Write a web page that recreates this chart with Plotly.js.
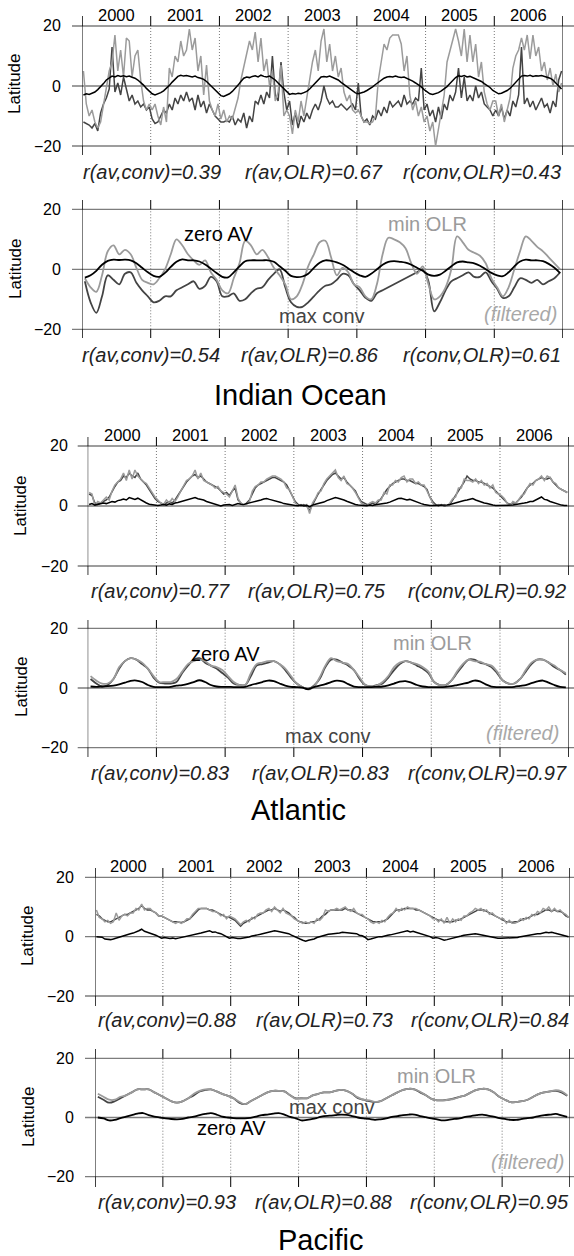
<!DOCTYPE html>
<html><head><meta charset="utf-8">
<script src="https://cdn.plot.ly/plotly-3.0.1.min.js"></script>
<style>html,body{margin:0;padding:0;background:#fff}#chart{width:574px;height:1256px}</style>
</head><body><div id="chart"></div>
<script>
// ---------------- DATA ----------------
const yearLabels = ['2000','2001','2002','2003','2004','2005','2006'];
const yearBounds = [2000,2001,2002,2003,2004,2005,2006,2007];
const yTicks = [-20, 0, 20];
const yTickText = ['\u221220', '0', '20'];
const regionNames = ['Indian Ocean', 'Atlantic', 'Pacific'];
const seriesNames = ['max conv', 'min OLR', 'zero AV'];
const corrIndianRaw = ['r(av,conv)=0.39', 'r(av,OLR)=0.67', 'r(conv,OLR)=0.43'];
const corrIndianFilt = ['r(av,conv)=0.54', 'r(av,OLR)=0.86', 'r(conv,OLR)=0.61'];
const corrAtlRaw = ['r(av,conv)=0.77', 'r(av,OLR)=0.75', 'r(conv,OLR)=0.92'];
const corrAtlFilt = ['r(av,conv)=0.83', 'r(av,OLR)=0.83', 'r(conv,OLR)=0.97'];
const corrPacRaw = ['r(av,conv)=0.88', 'r(av,OLR)=0.73', 'r(conv,OLR)=0.84'];
const corrPacFilt = ['r(av,conv)=0.93', 'r(av,OLR)=0.88', 'r(conv,OLR)=0.95'];

// Indian Ocean, raw (24 values per year, 2000-2006)
const indRawAV = [
-3.0,-2.6,-2.8,-2.3,-2.0,-1.2,-0.3,0.8,2.0,2.8,3.3,3.0,3.5,3.2,3.4,3.1,3.3,2.9,2.6,2.0,1.2,0.3,-0.8,-1.8,
-2.6,-3.0,-2.7,-2.2,-1.6,-0.8,0.2,1.3,2.4,3.2,3.6,3.3,3.5,3.2,3.0,3.3,2.8,2.6,2.2,1.5,0.6,-0.3,-1.4,-2.4,
-3.2,-3.5,-3.0,-2.6,-1.8,-0.9,0.3,1.5,2.6,3.0,2.8,3.2,3.4,3.0,3.6,3.2,3.0,3.3,2.7,2.0,1.0,0.0,-1.0,-2.0,
-2.8,-2.5,-2.7,-2.4,-2.6,-2.2,-1.8,-1.0,0.0,1.2,2.2,3.0,3.2,3.0,3.3,2.8,2.5,2.0,1.2,0.5,-0.3,-1.0,-1.8,-2.3,
-2.6,-2.4,-2.0,-1.5,-1.0,-0.3,0.5,1.3,2.0,2.6,3.0,3.2,3.0,3.3,3.0,2.8,3.0,2.6,2.2,1.6,1.0,0.4,-0.3,-1.2,
-2.0,-2.6,-2.8,-2.5,-2.2,-1.6,-1.0,-0.2,0.8,1.8,2.8,3.4,3.2,3.5,3.0,3.2,2.8,2.5,2.0,1.5,0.8,0.2,-0.5,-1.5,
-2.2,-2.6,-2.4,-2.0,-1.5,-0.8,0.2,1.5,2.5,3.3,3.5,3.3,3.6,3.2,3.4,3.3,3.5,3.2,3.0,2.6,2.0,1.0,0.0,-1.0];
const indRawConv = [
-12,-12.5,-13,-14,-12.5,-15,-9,-6,-4,-1,13,-2,1,-3,3,-1,-5,-3,-6,-5,-7,-6,-8,-7,
-11,-12.5,-12,-10,-8,-9,-6,-8,-4,-6,-3,-5,-2,-5,-4,-8,-3,-7,-5,-9,-6,-8,-10,-11,
-12,-12,-11.5,-12,-10,-13,-11,-12,-9,-14,-10,-12,-5,-6,-3,-6,-2,-4,10,-3,-5,8,-2,-8,
-5,-13,-9,-14,-10,-12,-9,-11,-8,-6,-8,-5,0,-4,-6,-5,-7,-7,-6,-7,-8,-7,-6,-8,
1,-10,-12,-11,-13,-10,-11,-8,-10,-7,-9,-5,-7,-6,-5,-7,-3,-6,-5,-6,-4,-5,6,-8,
-6,-10,-8,-12,-7,-11,-6,-8,-3,-5,-2,6,-4,3,-5,-3,-5,0,-4,-2,-6,-7,-8,-10,
-8,-10,-7,-11,-8,-10,-5,-7,-3,13,-6,-4,-7,-5,-8,-6,-4,-7,-6,-9,-5,-7,2,5];
const indRawOLR = [
5,-6,-10,-8,-12,-14,-12,-6,0,5,8,17,5,12,3,16,15,3,10,12,2,-5,-8,-6,
-8,-6,-10,-13,-7,-12,6,3,10,8,15,10,12,19,12,16,5,10,-3,7,-5,-8,-10,-6,
-11,-8,-12,-10,-11,-7,-4,2,6,10,15,12,18,8,16,5,9,0,5,-5,-2,7,-10,-8,
-10,-16,-8,-12,-5,-10,-4,2,8,12,5,15,19,8,14,5,10,3,6,-2,-5,-3,-8,-9,
-8,-10,-12,-12,-12.5,-12,-10,2,8,14,12,16,17,17,17,14,5,10,-3,-8,-5,-10,-7,-12,
-10,-15,-12,-20,-14,-8,-3,8,12,15,19,15,10,19,8,17,8,14,3,8,-2,-6,-8,-5,
-5,-10,-6,-12,-8,-4,6,10,12,16,12,17,9,17,10,13,5,8,2,6,0,4,-2,1];

// Indian Ocean, filtered (12 values per year)
const indFiltAV = [
-2.8,-2.0,-0.5,1.5,2.8,3.2,3.1,3.2,3.0,2.0,0.5,-1.0,
-2.2,-2.5,-1.2,0.8,2.5,3.3,3.0,3.0,2.6,1.6,0.2,-1.2,
-2.5,-2.7,-1.0,1.0,2.7,3.0,3.0,3.0,3.0,2.5,1.0,-0.5,
-2.2,-2.6,-2.4,-1.5,0.5,2.2,3.0,2.8,2.3,1.5,0.3,-1.0,
-2.0,-2.5,-1.5,0.0,1.5,2.5,2.7,2.5,2.2,1.5,0.5,-0.5,
-1.8,-2.2,-1.8,-0.5,1.0,2.3,2.6,2.3,2.0,1.2,0.0,-1.2,
-2.0,-2.3,-1.0,1.0,2.6,3.2,3.0,3.0,2.7,1.8,0.5,-1.3];
const indFiltConv = [
-4,-11,-14.5,-9,-2,-3.5,-5,-1.5,-1,-4.5,-7,-9,
-11,-10.5,-9,-9,-7,-6,-5,-4,-6.5,-5.5,-2.5,-4,
-9,-9,-8,-10.5,-10,-8,-6.5,-6,-3.5,-1.5,0,-6,
-11,-12.5,-12.5,-11,-9,-7,-5.5,-5,-3.5,-1.5,-2,-5,
-7,-9.5,-10.5,-8,-7,-6,-5,-4,-3,-2,-1,0,
-4,-14,-11,-7,-4,-3,-2,-1,-2.5,-2.5,-1,-4,
-6.5,-9.5,-9,-6,-3,-3.5,-4.5,-3.5,-5,-4,-3,-1];
const indFiltOLR = [
-3,-6,-7.5,-2,6,8,5,6.5,5,0.5,-3.5,-4.5,
-5,-3,0,5,10,8,5,3,1.5,3,-1,-3.5,
-7,-8,-3,2,9.5,8,5,6.5,4,0.5,-2,-5,
-10,-9,-5,1,5,9,9.5,4,-2,0.5,-1,-5,
-6,-9,-10,-5,5,10.5,10,9,7,2,-1.5,1,
-5,-10,-9,-6,0,11,9,6.5,5.5,4.5,2,-3,
-6,-9,-6,0,6,11,9.5,7.5,6,4,2,0];

// Atlantic, raw (24 values per year)
const atlRawAV = [
0.5,0.8,0.3,0.5,0.7,1.0,0.8,1.2,1.5,1.3,1.8,2.0,2.3,2.0,2.8,2.5,2.2,2.6,2.0,1.5,1.0,0.6,0.4,0.2,
0.2,0.3,0.5,0.3,0.7,0.5,1.0,1.2,1.5,1.8,2.0,2.3,2.5,2.8,2.4,2.2,2.0,1.5,1.2,1.0,0.8,0.3,0.0,0.3,
0.3,0.5,0.2,0.6,0.8,0.6,0.5,0.8,1.0,1.3,1.5,1.8,2.0,2.3,2.5,2.2,2.0,1.8,1.5,1.2,0.8,0.6,0.4,0.3,
0.2,0.1,0.3,0.0,0.2,-0.3,0.3,0.6,0.8,1.0,1.3,1.8,2.2,2.5,2.8,2.6,2.4,2.0,1.6,1.2,0.8,0.5,0.3,0.2,
0.2,0.1,0.3,0.2,0.4,0.5,0.6,0.8,1.0,1.3,1.7,2.0,2.5,2.6,2.3,2.0,2.2,1.8,1.5,1.2,0.8,0.5,0.3,0.2,
0.2,0.2,0.3,0.1,0.2,0.3,0.5,0.8,1.0,1.2,1.5,1.8,2.0,2.3,2.5,2.0,1.6,1.2,1.0,0.8,0.5,0.3,0.2,0.2,
0.2,0.3,0.1,0.2,0.3,0.5,0.6,0.8,1.0,1.2,1.5,1.5,2.0,2.5,3.0,2.2,2.0,1.5,1.2,0.8,0.5,0.3,0.2,0.2];
const atlRawConv = [
4,3.5,1,0.5,1,1.5,2,3,5,6.5,8,8.5,10,9.5,11,10,9.5,11,9,8,7,5.5,4,2.5,
1.5,1,0.5,1,1.5,1,2,3.5,5,6.5,8,9,10,10.5,9.5,10,9,8,7.5,7,6.5,6,5,4,
4.5,3.5,5,6,2,1,0,1,2,4,6,7,7.5,8,8.5,9,9.5,9.5,9,8.5,8,7,5,3,
1.5,0.5,0,0.5,0,-1.5,0.5,2,4,5.5,7,8.5,9.5,10.5,11,10,9,9.5,8,7,6,5,3,1.5,
1,0.5,0.5,1,0.5,1.5,2.5,4,5.5,6.5,7.5,8,8.5,9,9,8.5,8.5,8,7.5,7.5,7,6.5,5.5,3,
1.5,0.5,0,0.5,0,0,0.5,2,3.5,5,6.5,8,10,9,8.5,8.5,8,8,7.5,7,6.5,6,5,4,
3,2,1,0.5,1,1,2,3,4.5,6,7,7.5,8.5,9,9.5,9,9,9.5,8,7,6,5.5,5,4.5];
const atlRawOLR = [
4.5,4,0,1.5,1,2,3,2,5,7,8,9,11,8.5,12,9,12,10,9,8,7.5,6,4.5,3,
2,1,0.5,2,1,2.5,1.5,3,5,7,8.5,9,10,12,9,11,8.5,8,7.5,7,6,6.5,5,4.5,
4,3,5,7,2.5,1,0,0.5,1.5,5,6.5,7,8,8,9,9.5,10,10,9.5,9,8,6,5.5,3,
1,0,0.5,0,0.5,-2.5,1,2.5,4.5,5,7.5,9,10,11,12,9.5,8.5,10,7.5,7,6,4.5,2.5,1,
0.5,0,1,1.5,1,2,2,4.5,4,7,7,8.5,8,9.5,10,8,9,9,7.5,8,7,7,5,3,
1,0,0.5,0,0.5,0,1,2.5,3,6,6,9,8.5,8.5,8,9,7.5,8.5,7,7.5,6,7,4.5,4,
3.5,2.5,1,0,1.5,1,2,3.5,4,6,7.5,7,8.5,9,10,8.5,10,9.5,8,7.5,6,5.5,5,4.5];

// Atlantic, filtered (12 values per year)
const atlFiltAV = [
0.5,0.4,0.5,0.6,0.8,1.2,1.8,2.4,2.5,2.0,1.0,0.4,
0.3,0.3,0.4,0.8,1.0,1.4,2.0,2.6,2.0,1.0,0.5,0.4,
0.4,0.3,0.3,0.4,1.0,1.5,2.0,2.5,2.3,1.5,0.8,0.4,
0.3,0.1,-0.4,0.3,0.8,1.3,2.0,2.5,2.2,1.3,0.5,0.3,
0.3,0.3,0.4,0.5,0.9,1.5,2.1,2.3,1.8,1.0,0.5,0.3,
0.3,0.3,0.4,0.6,1.0,1.4,1.8,2.5,2.2,1.2,0.5,0.3,
0.3,0.3,0.4,0.7,1.0,1.6,2.2,2.5,1.8,1.0,0.4,0.2];
const atlFiltConv = [
3,1.5,0.5,1,3,6.5,9,10,9.5,8,6.5,3.5,
1.8,1.5,1.5,2,5,7.5,9.5,10,8.5,7.5,6.5,5,
3.5,1.5,1,1,4,7.5,8,8.5,9,8,6,3.5,
1.5,0.3,-0.3,0.8,3,7,9.5,9.5,8.5,7.5,6,3,
1,0.5,1,1.5,3.5,6,8,9,8.5,7.5,6.5,5,
2,1,1,2.5,5,7.5,9.5,9.5,8.5,8,7,5,
2.5,1.5,1.5,3,5.5,8,9.5,9.5,8.5,7,6,4.5];
const atlFiltOLR = [
4,2.5,1.5,1.5,3,7,9,10,9.5,8.5,6.5,4,
2,2,2,3,5.5,8,9,9.5,9,7.5,7,6,
4,2,1,1,5,8,8.5,9,9,8,6.5,4,
1.5,0.3,-0.5,0.5,3.5,7.5,10,9,8.5,8,6,3.5,
1,0.5,0.8,2,4,7,8.5,9,8.5,8,7,5.5,
2,1,1,2.5,5.5,8,9.5,9,8.8,8,7.5,5.5,
2.5,1.5,1.5,3,6,8.5,9.5,9.5,8.5,7.5,6,5];

// Pacific, raw (24 values per year)
const pacRawAV = [
0,0,-0.2,-0.8,-1,-1,-0.8,-0.5,0,0.3,0.5,0.8,1,1.2,1.5,2.0,2.5,1.8,1.5,1.2,1.0,0.5,0,-0.5,
-0.3,-0.5,-0.6,-0.5,-0.7,-0.5,-0.3,-0.2,0,0.3,0.5,0.8,1.0,1.2,1.5,1.8,2.0,1.5,1.6,1.2,1.0,0.5,0,-0.5,
-0.3,-0.5,-0.6,-0.6,-0.5,-0.3,-0.1,0.2,0.5,0.6,0.8,1.0,1.2,1.5,1.8,2.0,1.8,1.6,1.5,1.2,1.0,0.5,0,-0.5,
-0.8,-1.2,-1.5,-1.2,-1,-0.8,-0.3,0,0.3,0.5,0.8,0.9,1.0,1.0,1.2,1.5,1.4,1.2,1.3,1.0,1.0,0.5,0.3,-0.2,
-1,-0.8,-0.5,-0.3,0,0,0.3,0.5,0.6,0.8,1.0,1.2,1.5,1.8,2.0,1.6,1.8,1.5,1.2,1.0,0.8,0.5,0,-0.5,
-0.3,-0.5,-0.8,-1.2,-1.0,-0.8,-0.5,-0.3,0,0.2,0.5,0.6,0.8,1.0,1.0,0.8,0.6,0.5,0.3,0.2,0,-0.3,-0.5,-0.5,
-0.5,-0.5,-0.3,-0.5,-0.4,-0.3,0,0.2,0.3,0.5,0.6,0.8,1.0,1.0,1.2,1.5,1.3,1.5,1.2,1.0,0.8,0.5,0.3,0];
const pacRawConv = [
7.5,7,6,5.5,5,5,5.5,6,6.5,7,7.5,7.5,8,8.5,9,9.5,10.5,9.5,9,9,8.5,8,7,7,
6.5,6,5.5,5,5,4.8,4.8,5,5.5,6,7,8,9,9.5,9.5,9.5,9,9,8.5,8,7.5,7,6.5,6.5,
6,5.5,4.5,3.5,4.5,5,5.5,6,6.5,7,7.5,8,8.5,9,9,9.5,9,8.5,9,8.5,8,7,6.5,5.5,
5,4.8,4.5,4.5,5,5,5.5,6,7,7.5,8.5,9,9,9,9,9,9.5,9,9,8.5,8,7.5,7,6.5,
6,5.5,5,5,5,5,5.5,6,7,8,9,9,9,9.5,9.5,9.5,9.5,9,9,8.5,8,7.5,7,6.5,
6,5.5,5.5,5,5,5,5,5.5,5.5,6,6.5,7,7.5,8,8.5,9,9,9,8.5,8,7.5,7,6.5,6,
5.5,5,5,4.8,5,5,5.5,6,6,6.5,7,7.5,7.5,8,8.5,9,9,8.5,9,8.5,8.5,8,7,6.5];
const pacRawOLR = [
9,6.5,6,5,5.5,4.5,5,8,5.5,7,7.5,7,8,8,9.5,9,11,9,9.5,9.5,8.5,8,7,7,
6.5,6,5.5,5,4.5,5,4.5,5,6,6,7.5,8.5,9.5,9.5,9.5,9.5,9,8.5,8.5,8,7,7.5,6,7,
6.5,6,5,4,5,5.5,5,6.5,6,7.5,8,8,9,9.5,8.5,10,9,8,9.5,8,7.5,7,6,5.5,
5,4.5,5,4.5,5,4.5,6,5.5,6.5,9,8.5,9,9,9.5,9,9.5,10,9,8.5,9.5,8,7.5,7.5,6.5,
6,5,4.5,5,4.5,5.5,5,6.5,7.5,8,9.5,8.5,9.5,9,10,9.5,9.5,9.5,9,8.5,8,7.5,7,6,
6,5,6,4.5,6.5,4.5,6,5,6,5.5,7,7,8,8.5,9.5,9,9.5,8.5,9,7.5,8,7,6.5,6,
6,4.5,5.5,4.5,4.5,5,6,5.5,6.5,6,7.5,7,8.5,8,9.5,9,10,8.5,9.5,8.5,9,8,7.5,6.5];

// Pacific, filtered (12 values per year)
const pacFiltAV = [
0,-0.3,-1,-0.8,-0.2,0.3,0.8,1.3,1.5,0.8,0.3,0,
-0.3,-0.5,-0.6,-0.5,0,0.3,0.8,1.2,1.5,1,0.3,0,
-0.2,-0.3,-0.3,-0.1,0.3,0.8,1.0,1.3,1.5,1.0,0.2,-0.3,
-1,-0.8,-0.5,0,0.5,0.6,0.8,1,0.9,0.5,0,-0.3,
-0.5,-0.8,-0.6,-0.3,0.2,0.5,0.8,1.0,1.0,0.5,0.1,-0.3,
-0.6,-1,-0.8,-0.5,-0.3,0.2,0.5,0.8,1.0,0.6,0.3,-0.2,
-0.5,-0.8,-0.8,-0.5,-0.2,0,0.5,0.8,1.0,1.2,0.7,0.2];
const pacFiltConv = [
7,6,5,5.5,6.5,7.5,8.5,9.5,9.5,9.5,8.5,7.5,
6.5,5.5,5,5.5,6.5,7.5,8.8,9.3,9.5,8.8,8,7.3,
6.5,5,4.5,5.5,6.5,7.5,8.5,9,9,8.8,7.5,6.5,
6.5,6.5,7.5,8,8.5,8.5,9,9.3,9,8,6.5,6,
5.5,5.2,5.5,6.5,7.5,8.5,9.3,9.7,9.5,8.5,7.5,6.3,
5.8,5.8,6,6.5,7,7.5,8.5,9.3,9.7,9.5,8.5,7,
6,5.2,5.2,5.5,6,7,8,8.5,8.8,9,8.5,7.3];
const pacFiltOLR = [
8,7,6,6,7,7.5,8.5,9.5,9.5,9.5,8.5,7.5,
6.5,5.5,5,5.5,6.5,8,9,9.5,9.5,8.8,8,7.3,
6.5,5.3,4.5,5.5,6.5,7.5,8.5,9,9,8.8,7.5,6.3,
6.5,6.5,7.5,8,8.5,8.5,9,9.3,9,8,6.8,6,
5.8,5.3,5.5,6.5,7.5,8.5,9.3,9.7,9.5,8.7,7.5,6.3,
5.8,5.8,6,6.3,7,7.5,8.5,9.3,9.7,9.5,8.5,7,
6,5.2,5.2,5.5,6,7,8,8.5,8.8,9.2,8.8,7.5];

// ---------------- LAYOUT / DRAWING ----------------
const W = 574, H = 1256;
const FONT = 'Liberation Sans, Arial, Helvetica, sans-serif';
const COL = {conv:'#444444', olr:'#9b9b9b', av:'#000000'};

const panels = [
 {conv:indRawConv, olr:indRawOLR, av:indRawAV, filt:false, xl:82, xr:563, p20:26, m20:146, T:16, B:155,
  yearY:15, corr:corrIndianRaw, corrY:172, corrX:[152,314,482], latX:15, latY:84, tickR:63},
 {conv:indFiltConv, olr:indFiltOLR, av:indFiltAV, filt:true, xl:82, xr:563, p20:209.3, m20:329.3, T:200, B:338,
  corr:corrIndianFilt, corrY:355, corrX:[151,310,482], latX:15, latY:269, tickR:63,
  labels:{av:[218,234], olr:[427,224], conv:[322,316], filt:[520,314]}, region:[0,300,395]},
 {conv:atlRawConv, olr:atlRawOLR, av:atlRawAV, filt:false, xl:87.7, xr:568.7, p20:446, m20:566, T:437, B:575,
  yearY:435, corr:corrAtlRaw, corrY:591, corrX:[160,317,487], latX:21, latY:506, tickR:70},
 {conv:atlFiltConv, olr:atlFiltOLR, av:atlFiltAV, filt:true, xl:87.7, xr:568.7, p20:628.3, m20:747.7, T:620, B:757,
  corr:corrAtlFilt, corrY:773, corrX:[160,320,487], latX:21, latY:687, tickR:70,
  labels:{av:[225,654], olr:[432,643], conv:[328,736], filt:[522,733]}, region:[1,298.5,810]},
 {conv:pacRawConv, olr:pacRawOLR, av:pacRawAV, filt:false, xl:95, xr:570, p20:877.3, m20:996, T:868, B:1006,
  yearY:866, corr:corrPacRaw, corrY:1020, corrX:[167,324,490], latX:28, latY:936, tickR:76},
 {conv:pacFiltConv, olr:pacFiltOLR, av:pacFiltAV, filt:true, xl:95, xr:570, p20:1058.3, m20:1176.7, T:1049, B:1187,
  corr:corrPacFilt, corrY:1202, corrX:[167,323,489], latX:28, latY:1117, tickR:76,
  labels:{av:[231,1128], olr:[436,1076], conv:[332,1107], filt:[527,1162]}, region:[2,320,1240]}
];

function timeAxis(n){
  const out = [];
  for (let y = 0; y < 7; y++) for (let i = 0; i < n; i++) out.push(yearBounds[y] + (i + 0.5) / n);
  return out;
}
const py = v => 1 - v / H;

const traces = [], shapes = [], annotations = [];
const layout = {
  width: W, height: H, margin:{l:0,r:0,t:0,b:0}, showlegend:false,
  paper_bgcolor:'#ffffff', plot_bgcolor:'rgba(0,0,0,0)', font:{family:FONT, color:'#000'}
};

panels.forEach((p, idx) => {
  const k = idx + 1;
  const xa = 'x' + (k === 1 ? '' : k), ya = 'y' + (k === 1 ? '' : k);
  const s = (p.m20 - p.p20) / 40;
  const yTop = 20 + (p.p20 - p.T) / s, yBot = -20 - (p.B - p.m20) / s;
  layout['xaxis' + (k === 1 ? '' : k)] = {domain:[p.xl / W, p.xr / W], range:[2000, 2007], showgrid:false,
    zeroline:false, showline:false, showticklabels:false, ticks:'', anchor:ya, fixedrange:true};
  layout['yaxis' + (k === 1 ? '' : k)] = {domain:[py(p.B), py(p.T)], range:[yBot, yTop], showgrid:false,
    zeroline:false, showline:false, showticklabels:false, ticks:'', anchor:xa, fixedrange:true};

  // series
  const n = p.conv.length / 7;
  const xsArr = timeAxis(n);
  const lw = p.filt ? 1.8 : 1.5;
  const shp = p.filt ? {shape:'spline', smoothing:1} : {};
  [['conv', p.conv], ['olr', p.olr], ['av', p.av]].forEach(([key, arr]) => {
    traces.push({x:xsArr, y:arr, xaxis:xa, yaxis:ya, type:'scatter', mode:'lines', hoverinfo:'skip',
      line:Object.assign({color:COL[key], width:lw}, shp)});
  });

  // horizontal reference lines at -20, 0, 20
  yTicks.forEach(v => shapes.push({type:'line', layer:'below', xref:'paper', x0:(p.xl - 10) / W, x1:1,
    yref:ya, y0:v, y1:v, line:{color:'#7d7d7d', width:1.3}}));
  // dotted year separators
  yearBounds.slice(1, -1).forEach(b => shapes.push({type:'line', layer:'below', xref:xa, x0:b, x1:b,
    yref:ya, y0:-20, y1:20, line:{color:'#777', width:1, dash:'1px,2px'}}));
  // year ticks (top and bottom)
  yearBounds.forEach(b => {
    shapes.push({type:'line', xref:xa, x0:b, x1:b, yref:ya, y0:20, y1:yTop, line:{color:'#000', width:1}});
    shapes.push({type:'line', xref:xa, x0:b, x1:b, yref:ya, y0:yBot, y1:-20, line:{color:'#000', width:1}});
  });
  // spines
  [2000, 2007].forEach(b => shapes.push({type:'line', xref:xa, x0:b, x1:b, yref:ya, y0:yBot, y1:yTop,
    line:{color:'#000', width:1}}));

  // y tick labels
  yTicks.forEach((v, i) => annotations.push({xref:'paper', x:p.tickR / W, xanchor:'right', yref:ya, y:v,
    yanchor:'middle', text:yTickText[i], showarrow:false, font:{size:16, family:FONT, color:'#000'}}));
  // Latitude
  annotations.push({xref:'paper', x:p.latX / W, yref:'paper', y:py(p.latY), xanchor:'center', yanchor:'middle',
    text:'Latitude', textangle:-90, showarrow:false, font:{size:17, family:FONT, color:'#000'}});
  // year labels
  if (p.yearY !== undefined) yearLabels.forEach((t, i) => annotations.push({xref:xa, x:yearBounds[i] + 0.5,
    yref:'paper', y:py(p.yearY), xanchor:'center', yanchor:'middle', text:t, showarrow:false,
    font:{size:16.5, family:FONT, color:'#000'}}));
  // correlations
  p.corr.forEach((t, i) => annotations.push({xref:'paper', x:p.corrX[i] / W, yref:'paper', y:py(p.corrY),
    xanchor:'center', yanchor:'middle', text:t, showarrow:false,
    font:{size:20, family:FONT, color:'#222', style:'italic'}}));
  // curve labels for filtered panels
  if (p.labels) {
    const L = p.labels;
    const mk = (pos, text, color, style) => annotations.push({xref:'paper', x:pos[0] / W, yref:'paper', y:py(pos[1]),
      xanchor:'center', yanchor:'middle', text:text, showarrow:false,
      font:{size:20, family:FONT, color:color, style:style || 'normal'}});
    mk(L.av, seriesNames[2], '#000000');
    mk(L.olr, seriesNames[1], '#9b9b9b');
    mk(L.conv, seriesNames[0], '#444444');
    mk(L.filt, '(filtered)', '#a8a8a8', 'italic');
  }
  if (p.region) annotations.push({xref:'paper', x:p.region[1] / W, yref:'paper', y:py(p.region[2]),
    xanchor:'center', yanchor:'middle', text:regionNames[p.region[0]], showarrow:false,
    font:{size:29, family:FONT, color:'#000'}});
});

layout.shapes = shapes;
layout.annotations = annotations;
Plotly.newPlot('chart', traces, layout, {staticPlot:true, displayModeBar:false});
</script>
</body></html>
